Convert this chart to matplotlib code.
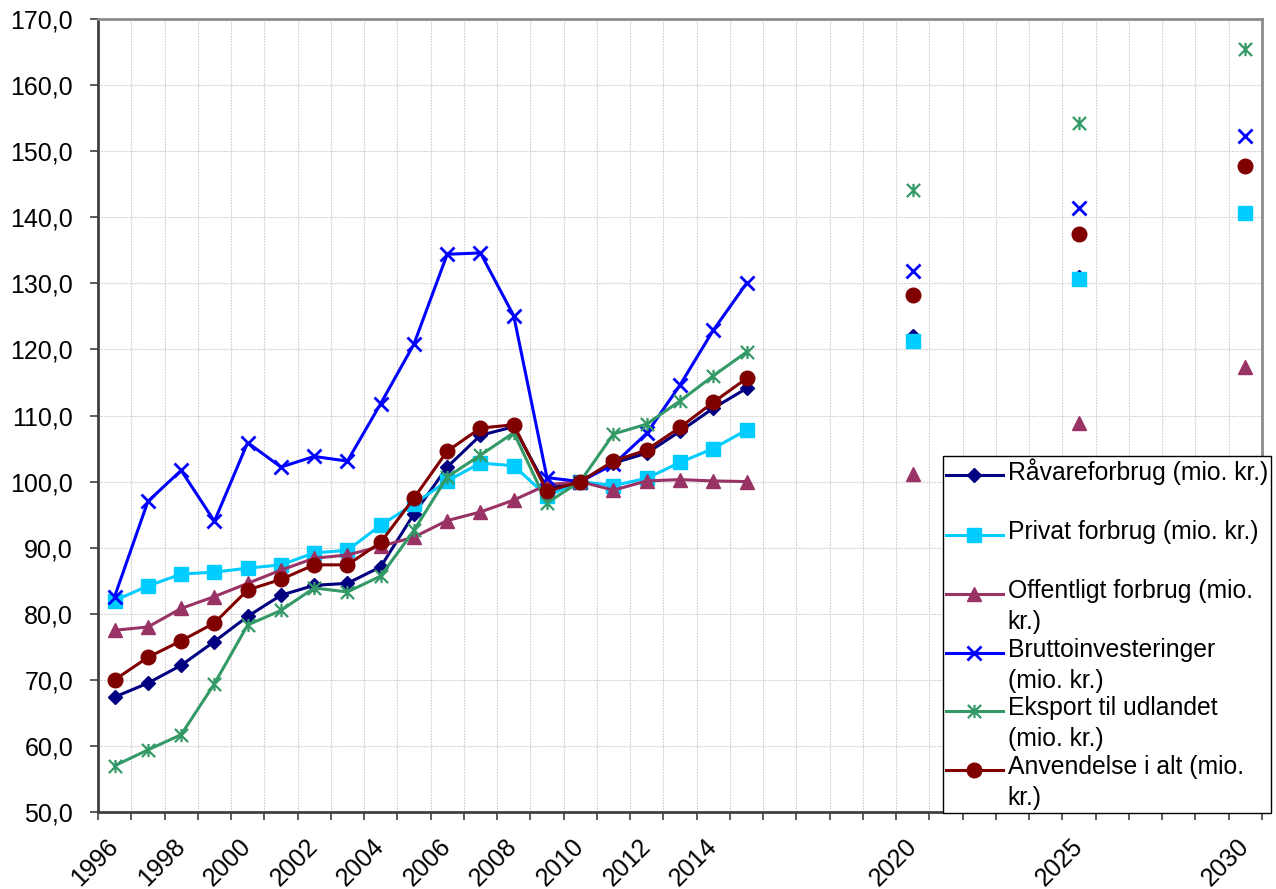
import numpy as np
import matplotlib
matplotlib.use("Agg")
import matplotlib.pyplot as plt
from matplotlib.path import Path
from matplotlib.legend_handler import HandlerLine2D
from matplotlib.ticker import FixedLocator, FuncFormatter

plt.rcParams['font.family'] = ['Liberation Sans', 'DejaVu Sans']

nan = np.nan
years = list(range(1996, 2031))
label_years = [1996, 1998, 2000, 2002, 2004, 2006, 2008, 2010, 2012, 2014, 2020, 2025, 2030]

gap4 = [nan, nan, nan, nan]
raavare = [67.4, 69.5, 72.2, 75.8, 79.6, 82.8, 84.3, 84.6, 87.1, 95.1, 102.2, 107.0, 108.3, 99.0, 100.0,
           102.8, 104.3, 107.6, 111.1, 114.1] + gap4 + [122.0] + gap4 + [131.0] + gap4 + [140.6]
privat = [82.0, 84.2, 86.0, 86.3, 86.9, 87.4, 89.2, 89.6, 93.4, 96.6, 100.1, 102.8, 102.4, 97.8, 100.0,
          99.4, 100.5, 102.9, 105.0, 107.8] + gap4 + [121.3] + gap4 + [130.6] + gap4 + [140.7]
offentligt = [77.5, 78.0, 80.8, 82.6, 84.6, 86.6, 88.4, 88.9, 90.2, 91.6, 94.1, 95.4, 97.2, 99.5, 100.0,
              98.7, 100.1, 100.3, 100.1, 100.0] + gap4 + [101.1] + gap4 + [108.8] + gap4 + [117.3]
brutto = [82.6, 97.0, 101.7, 94.0, 105.9, 102.2, 103.8, 103.1, 111.8, 120.8, 134.4, 134.6, 125.1, 100.6, 100.0,
          102.6, 107.3, 114.6, 122.9, 130.0] + gap4 + [131.8] + gap4 + [141.4] + gap4 + [152.3]
eksport = [57.0, 59.4, 61.7, 69.4, 78.3, 80.5, 83.9, 83.3, 85.7, 92.6, 100.7, 104.0, 107.4, 96.8, 100.0,
           107.2, 108.7, 112.2, 116.0, 119.6] + gap4 + [144.1] + gap4 + [154.2] + gap4 + [165.5]
anvendelse = [70.0, 73.4, 75.9, 78.6, 83.6, 85.2, 87.4, 87.4, 90.8, 97.5, 104.6, 108.1, 108.6, 98.5, 100.0,
              103.1, 104.8, 108.2, 112.0, 115.6] + gap4 + [128.2] + gap4 + [137.5] + gap4 + [147.8]

labels = ["Råvareforbrug (mio. kr.)\n",
          "Privat forbrug (mio. kr.)\n",
          "Offentligt forbrug (mio.\nkr.)",
          "Bruttoinvesteringer\n(mio. kr.)",
          "Eksport til udlandet\n(mio. kr.)",
          "Anvendelse i alt (mio.\nkr.)"]

asterisk = Path([(0, -1), (0, 1), (-1, -1), (1, 1), (-1, 1), (1, -1)],
                [Path.MOVETO, Path.LINETO, Path.MOVETO, Path.LINETO, Path.MOVETO, Path.LINETO])

styles = [
    dict(color='#000080', marker='D', ms=7.5),
    dict(color='#00CCFF', marker='s', ms=10),
    dict(color='#993366', marker='^', ms=10.5),
    dict(color='#0000FF', marker='x', ms=10.5, mew=2.0),
    dict(color='#339966', marker=asterisk, ms=9.5, mew=1.6),
    dict(color='#800000', marker='o', ms=10.5),
]
series = [raavare, privat, offentligt, brutto, eksport, anvendelse]

fig = plt.figure(figsize=(12.76, 8.89), dpi=100)
ax = fig.add_axes([98/1276, 1-812/889, (1262-98)/1276, (812-19)/889])

x = np.arange(len(years))
handles = []
for vals, st, lab in zip(series, styles, labels):
    ln, = ax.plot(x, np.array(vals, dtype=float), lw=2.2, label=lab, clip_on=False, **st)
    handles.append(ln)

ax.set_xlim(-0.5, len(years) - 0.5)
ax.set_ylim(50, 170)
ax.set_yticks(np.arange(50, 171, 10))
ax.yaxis.set_major_formatter(FuncFormatter(lambda v, p: f"{v:.1f}".replace('.', ',')))

# x: labels at category centres, tick marks & grid at boundaries
ax.set_xticks([years.index(y) for y in label_years])
ax.set_xticklabels([str(y) for y in label_years], rotation=45, ha='right', va='center',
                   rotation_mode='anchor')
ax.xaxis.set_minor_locator(FixedLocator(np.arange(-0.5, len(years), 1.0)))
ax.tick_params(axis='x', which='major', length=0, pad=22, labelsize=18)
ax.tick_params(axis='x', which='minor', length=6, width=1.2, color='#404040')
ax.tick_params(axis='y', which='major', length=6, width=1.2, color='#404040', pad=12, labelsize=18)

ax.grid(False)
ax.grid(True, which='minor', axis='x', color='#CFCFCF', linestyle=(0, (1.5, 1)), linewidth=0.8)
ax.grid(True, which='major', axis='y', color='#CFCFCF', linestyle=(0, (1.5, 1)), linewidth=0.8)
ax.set_axisbelow(True)

for s in ['left', 'bottom']:
    ax.spines[s].set_color('#404040')
    ax.spines[s].set_linewidth(2)
for s in ['top', 'right']:
    ax.spines[s].set_color('#8C8C8C')
    ax.spines[s].set_linewidth(2)


class UpHandler(HandlerLine2D):
    def __init__(self, dy, **kw):
        super().__init__(**kw)
        self.dy = dy

    def create_artists(self, legend, orig_handle, xdescent, ydescent, width, height, fontsize, trans):
        arts = super().create_artists(legend, orig_handle, xdescent, ydescent, width, height,
                                      fontsize, trans)
        for a in arts:
            a.set_ydata(np.asarray(a.get_ydata(), dtype=float) + self.dy)
        return arts


h = UpHandler(9.6)
leg = fig.legend(handles=handles, labels=labels, loc='lower right',
                 bbox_to_anchor=(1271/1276, 1-813/889), bbox_transform=fig.transFigure,
                 borderaxespad=0, fontsize=17.8, frameon=True, fancybox=False,
                 edgecolor='black', framealpha=1, handlelength=2.3, handletextpad=0.2,
                 borderpad=0.12, labelspacing=0.15, numpoints=1,
                 handler_map={h_: h for h_ in handles})
leg.get_frame().set_linewidth(1.0)
for t in leg.get_texts():
    t.set_linespacing(1.37)

fig.savefig("out.png", dpi=100)
